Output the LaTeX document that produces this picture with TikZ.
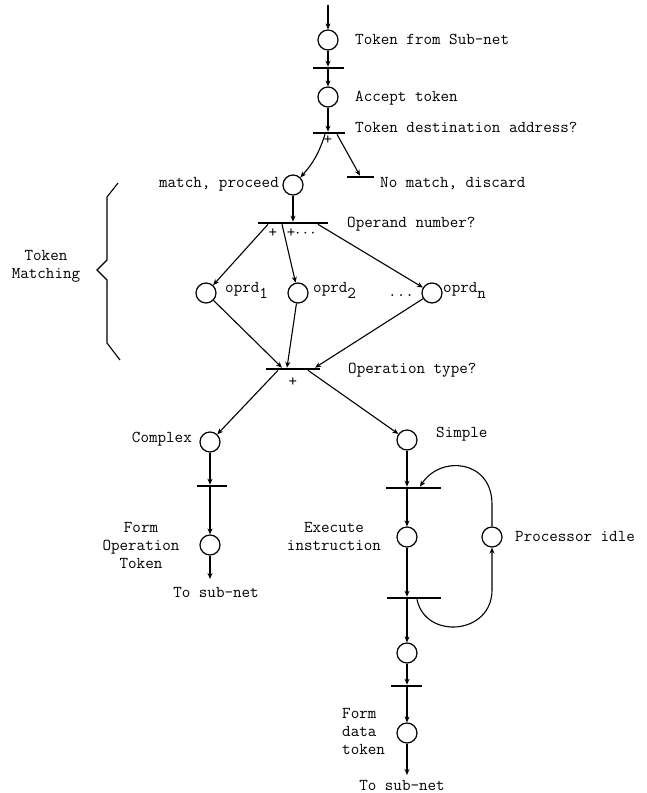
\documentclass[tikz,border=0pt]{standalone}
\usepackage{fontspec}
\usetikzlibrary{arrows.meta,calc}
\begin{document}
\begin{tikzpicture}[x=1pt,y=1pt,
  every node/.style={font=\ttfamily\fontsize{16.6}{18}\selectfont},
  place/.style={circle,draw,line width=1.2pt,minimum size=20pt,inner sep=0pt},
  tbar/.style={rectangle,fill=black,minimum height=2.2pt,inner sep=0pt,minimum width=#1},
  arr/.style={-{Stealth[length=6pt,width=5pt]},line width=1.1pt},
  lbl/.style={inner sep=0pt},
  mlbl/.style={inner sep=0pt,align=center},
]
\useasboundingbox (0,0) rectangle (647,-793);

% places and transitions
\coordinate (top) at (328,-5);
\node[place] (p1) at (328,-40) {};
\node[tbar=31] (t1) at (328,-68) {};
\node[place] (p2) at (328,-97) {};
\node[tbar=32] (t2) at (329,-133) {};
\node[place] (pm) at (293,-185) {};
\node[tbar=27] (td) at (360,-177) {};
\node[tbar=70] (t3) at (293,-223) {};
\node[place] (o1) at (206,-293) {};
\node[place] (o2) at (298,-293) {};
\node[place] (on) at (432,-293) {};
\node[tbar=54] (t4) at (293,-369) {};
\node[place] (cx) at (210,-442) {};
\node[tbar=30] (tc) at (212,-486) {};
\node[place] (cf) at (210,-545) {};
\coordinate (cend) at (210,-579);
\node[place] (sp) at (407,-440) {};
\node[tbar=55] (s1) at (413.5,-488) {};
\node[place] (ex) at (407,-537) {};
\node[place] (pi) at (492,-537) {};
\node[tbar=54] (s2) at (414,-598) {};
\node[place] (s3p) at (407,-653) {};
\node[tbar=31] (s3) at (406.5,-686) {};
\node[place] (fd) at (407,-733) {};
\coordinate (send) at (407,-775);

% connectors
\draw[arr] (top) -- (p1);
\draw[arr] (p1) -- (p1 |- t1.north);
\draw[arr] (t1 -| p2) -- (p2);
\draw[arr] (p2) -- (p2 |- t2.north);
\draw[arr] ($(t2.south)+(-4,0)$) to[bend left=12] (pm);
\draw[arr] ($(t2.south)+(8,0)$) -- (td.north);
\draw[arr] (pm) -- (pm |- t3.north);
\draw[arr] ($(t3.south)+(-25,0)$) -- (o1);
\draw[arr] ($(t3.south)+(-11,0)$) -- (o2);
\draw[arr] ($(t3.south)+(25,0)$) -- (on);
\draw[arr] (o1) -- ($(t4.north)+(-11,0)$);
\draw[arr] (o2) -- ($(t4.north)+(-6,0)$);
\draw[arr] (on) -- ($(t4.north)+(22,0)$);
\draw[arr] ($(t4.south)+(-15,0)$) -- (cx);
\draw[arr] ($(t4.south)+(15,0)$) -- (sp);
\draw[arr] (cx) -- (cx |- tc.north);
\draw[arr] (tc -| cf) -- (cf);
\draw[arr] (cf) -- (cend);
\draw[arr] (sp) -- (sp |- s1.north);
\draw[arr] (s1 -| ex) -- (ex);
\draw[arr] (ex) -- (ex |- s2.north);
\draw[arr] (s2 -| s3p) -- (s3p);
\draw[arr] (s3p) -- (s3p |- s3.north);
\draw[arr] (s3 -| fd) -- (fd);
\draw[arr] (fd) -- (send);
% processor idle loop
\draw[arr] (pi.north) -- ++(0,22) .. controls +(0,45) and (440,-455) .. ($(s1.north)+(6.5,0)$);
\draw[arr] ($(s2.south)+(3,0)$) .. controls (425,-640) and (492,-635) .. (492,-590) -- (pi.south);

% brace
\draw[line width=1.1pt] (118,-183) -- (107,-197) -- (107,-260) -- (97,-270)
  -- (107,-280) -- (107,-343) -- (120,-360);

% labels
\node[lbl,anchor=base west] (l1) at (355,-44) {Token from Sub-net};
\node[lbl,anchor=base west] (l2) at (355,-101) {Accept token};
\node[lbl,anchor=base west] (l3) at (355,-132) {Token destination address?};
\node[lbl] (pl1) at (328,-140) {+};
\node[lbl,anchor=base west] (l4) at (380,-187) {No match, discard};
\node[lbl,anchor=base east] (l5) at (279,-187) {match, proceed};
\node[lbl,anchor=base west] (l6) at (347,-227) {Operand number?};
\node[lbl] (pl2) at (273,-233) {+};
\node[lbl,anchor=west] (pl3) at (286.6,-233) {+$\cdots$};
\node[lbl,anchor=base west] (lo1) at (225,-292) {oprd\raisebox{-6pt}{1}};
\node[lbl,anchor=base west] (lo2) at (313,-292) {oprd\raisebox{-6pt}{2}};
\node[lbl,anchor=base west] (ldots) at (388,-296) {...};
\node[lbl,anchor=base west] (lon) at (443,-292) {oprd\raisebox{-6pt}{n}};
\node[lbl,anchor=base west] (l7) at (348,-373) {Operation type?};
\node[lbl] (pl4) at (293,-382) {+};
\node[lbl,anchor=base east] (l8) at (192,-442) {Complex};
\node[lbl,anchor=base west] (l9) at (436,-437) {Simple};
\node[mlbl] (l10) at (141,-545) {Form\\Operation\\Token};
\node[lbl] (l11) at (216,-592) {To sub-net};
\node[mlbl] (l12) at (334,-536) {Execute\\instruction};
\node[lbl,anchor=base west] (l13) at (515,-541) {Processor idle};
\node[lbl,align=left,anchor=west] (l14) at (342,-731) {Form\\data\\token};
\node[lbl] (l15) at (402,-785) {To sub-net};
\node[mlbl] (l16) at (46,-266) {Token\\Matching};
\end{tikzpicture}
\end{document}
